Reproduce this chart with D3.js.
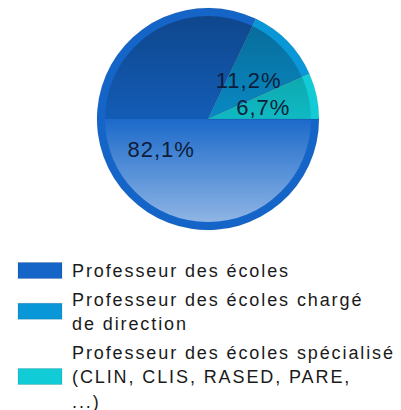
<!DOCTYPE html>
<head>
  <meta charset="utf-8">
  <script src="https://d3js.org/d3.v7.min.js"></script>
  <style>
    body { margin:0; background:#fff; }
    text { font-family: "Liberation Sans", Arial, sans-serif; }
  </style>
</head>
<body>
<script>
  // data
  var categories = ["Professeur des écoles",
                    "Professeur des écoles chargé de direction",
                    "Professeur des écoles spécialisé (CLIN, CLIS, RASED, PARE, ...)"];
  var values = [82.1, 11.2, 6.7];
  var valueLabels = ["82,1%", "11,2%", "6,7%"];
  var legendLines = [["Professeur des écoles"],
                     ["Professeur des écoles chargé", "de direction"],
                     ["Professeur des écoles spécialisé", "(CLIN, CLIS, RASED, PARE,", "...)"]];
  var colors = ["#1565c8", "#0a97d7", "#11ccd6"];

  var width = 401, height = 410;
  var cx = 208, cy = 119, r = 111, rim = 8;
  var ri = r - rim;

  var svg = d3.select("body").append("svg")
    .attr("width", width)
    .attr("height", height);

  var defs = svg.append("defs");

  // shading gradients, in the pie's own coordinates
  var gTop = defs.append("linearGradient").attr("id", "shadeTop")
    .attr("gradientUnits", "userSpaceOnUse")
    .attr("x1", 0).attr("y1", -ri).attr("x2", 0).attr("y2", 0);
  gTop.append("stop").attr("offset", "0%").attr("stop-color", "#000").attr("stop-opacity", 0.3);
  gTop.append("stop").attr("offset", "100%").attr("stop-color", "#000").attr("stop-opacity", 0.09);

  var gBot = defs.append("linearGradient").attr("id", "shadeBot")
    .attr("gradientUnits", "userSpaceOnUse")
    .attr("x1", 0).attr("y1", 0).attr("x2", 0).attr("y2", ri);
  gBot.append("stop").attr("offset", "0%").attr("stop-color", "#fff").attr("stop-opacity", 0.03);
  gBot.append("stop").attr("offset", "100%").attr("stop-color", "#fff").attr("stop-opacity", 0.52);

  defs.append("clipPath").attr("id", "clipTop")
    .append("rect").attr("x", -ri).attr("y", -ri).attr("width", 2 * ri).attr("height", ri);
  defs.append("clipPath").attr("id", "clipBot")
    .append("rect").attr("x", -ri).attr("y", 0).attr("width", 2 * ri).attr("height", ri);

  var g = svg.append("g").attr("transform", "translate(" + cx + "," + cy + ")");

  var pie = d3.pie().sort(null)
    .startAngle(Math.PI / 2)
    .endAngle(Math.PI / 2 + 2 * Math.PI);
  var arcs = pie(values);

  var arc = d3.arc().innerRadius(0).outerRadius(r);
  var labelArc = d3.arc().innerRadius(56).outerRadius(56);

  g.selectAll("path.slice").data(arcs).enter()
    .append("path")
    .attr("class", "slice")
    .attr("d", arc)
    .attr("fill", function(d, i) { return colors[i]; })
    .attr("stroke", "rgba(0,0,0,0.12)")
    .attr("stroke-width", 0.6);

  // glass effect
  g.append("circle").attr("r", ri)
    .attr("clip-path", "url(#clipTop)")
    .attr("fill", "url(#shadeTop)");
  g.append("circle").attr("r", ri)
    .attr("clip-path", "url(#clipBot)")
    .attr("fill", "url(#shadeBot)");

  g.selectAll("text.val").data(arcs).enter()
    .append("text")
    .attr("class", "val")
    .attr("transform", function(d) {
      var c = labelArc.centroid(d);
      return "translate(" + (c[0] + 0.5) + "," + c[1] + ")";
    })
    .attr("dy", "0.36em")
    .attr("text-anchor", "middle")
    .style("font-size", "22px")
    .style("letter-spacing", "1px")
    .style("fill", "#0d1d3a")
    .text(function(d, i) { return valueLabels[i]; });

  // legend
  var lineH = 24.5, itemGap = 4, y0 = 277;
  var legend = svg.append("g");
  var y = y0;
  legendLines.forEach(function(lines, i) {
    var item = legend.append("g");
    lines.forEach(function(t, j) {
      item.append("text")
        .attr("x", 72)
        .attr("y", y + j * lineH)
        .style("font-size", "18px")
        .style("letter-spacing", "1.9px")
        .style("fill", "#1a1a1a")
        .text(t);
    });
    var mid = y + (lines.length - 1) * lineH / 2 - 6.5;
    item.append("rect")
      .attr("x", 18).attr("y", mid - 8)
      .attr("width", 44).attr("height", 16)
      .attr("fill", colors[i])
      .attr("stroke", "rgba(0,0,0,0.12)")
      .attr("stroke-width", 1);
    y += lines.length * lineH + itemGap;
  });
</script>
</body>
